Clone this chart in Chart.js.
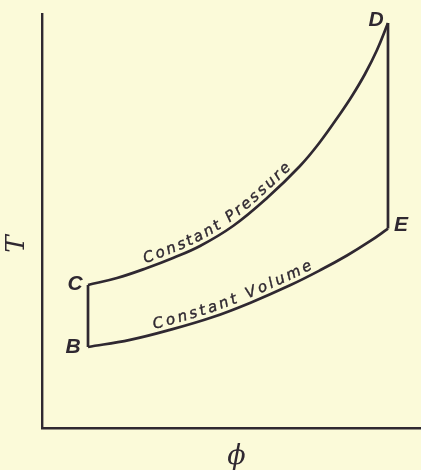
<!DOCTYPE html>
<html>
<head>
<meta charset="utf-8">
<script src="https://cdn.jsdelivr.net/npm/chart.js@4.4.0/dist/chart.umd.min.js"></script>
<style>
  html, body { margin: 0; padding: 0; background: #fbfad9; }
  #wrap { width: 421px; height: 470px; }
</style>
</head>
<body>
<div id="wrap"><canvas id="chart" width="421" height="470"></canvas></div>
<script>
// Entropy (phi) and temperature (T), arbitrary units
const stateNames = ['B', 'C', 'D', 'E'];
const statePhi = [12.14, 12.14, 91.29, 91.29];
const stateT = [19.57, 34.54, 97.83, 48.16];

// Heating at constant pressure, C -> D
const pressurePhi = [12.14, 19.79, 27.70, 34.56, 41.69, 50.40, 59.37, 68.07, 73.35, 78.63, 81.79, 85.22, 88.39, 91.29];
const pressureT = [34.54, 36.23, 38.65, 41.06, 43.96, 48.79, 55.56, 63.29, 69.08, 75.85, 80.19, 85.51, 91.30, 97.83];

// Constant volume line, B -> E
const volumePhi = [12.14, 23.22, 33.77, 45.12, 54.88, 65.44, 73.35, 80.47, 86.54, 91.29];
const volumeT = [19.57, 21.28, 23.70, 26.81, 30.22, 34.47, 38.09, 41.67, 45.12, 48.16];

const curveLabels = ['Constant Pressure', 'Constant Volume'];
const axisTitleX = 'ϕ';
const axisTitleY = 'T';

const INK = '#2f2831';

function pairs(xs, ys) { return xs.map((x, i) => ({ x: x, y: ys[i] })); }

const curveStyle = {
  showLine: true, borderColor: INK, borderWidth: 2.7, pointRadius: 0,
  tension: 0.4, fill: false
};
const edgeStyle = {
  showLine: true, borderColor: INK, borderWidth: 2.7, pointRadius: 0,
  tension: 0, fill: false
};

// Sample the drawn bezier path of a line dataset into a dense polyline
function samplePath(meta) {
  const pts = meta.data;
  const out = [{ x: pts[0].x, y: pts[0].y }];
  for (let i = 0; i < pts.length - 1; i++) {
    const a = pts[i], b = pts[i + 1];
    const c1x = a.cp2x ?? a.x, c1y = a.cp2y ?? a.y;
    const c2x = b.cp1x ?? b.x, c2y = b.cp1y ?? b.y;
    for (let k = 1; k <= 20; k++) {
      const t = k / 20, u = 1 - t;
      out.push({
        x: u*u*u*a.x + 3*u*u*t*c1x + 3*u*t*t*c2x + t*t*t*b.x,
        y: u*u*u*a.y + 3*u*u*t*c1y + 3*u*t*t*c2y + t*t*t*b.y
      });
    }
  }
  return out;
}

// Write text letter by letter along a polyline, between two x pixel positions
function textAlongPath(ctx, path, text, xStart, xEnd, offset) {
  const cum = [0];
  for (let i = 1; i < path.length; i++) {
    cum.push(cum[i - 1] + Math.hypot(path[i].x - path[i - 1].x, path[i].y - path[i - 1].y));
  }
  const arcAtX = (px) => {
    for (let i = 1; i < path.length; i++) if (path[i].x >= px) return cum[i];
    return cum[cum.length - 1];
  };
  const at = (s) => {
    let i = 1;
    while (i < path.length - 1 && cum[i] < s) i++;
    const p0 = path[i - 1], p1 = path[i];
    const f = (s - cum[i - 1]) / ((cum[i] - cum[i - 1]) || 1);
    return {
      x: p0.x + (p1.x - p0.x) * f,
      y: p0.y + (p1.y - p0.y) * f,
      a: Math.atan2(p1.y - p0.y, p1.x - p0.x)
    };
  };
  const chars = [...text];
  const widths = chars.map(ch => ctx.measureText(ch).width);
  const natural = widths.reduce((s, w) => s + w, 0);
  const s0 = arcAtX(xStart), s1 = arcAtX(xEnd);
  const gap = (s1 - s0 - natural) / (chars.length - 1);
  let s = s0;
  chars.forEach((ch, i) => {
    const p = at(s + widths[i] / 2);
    ctx.save();
    ctx.translate(p.x, p.y);
    ctx.rotate(p.a);
    ctx.fillText(ch, 0, -offset);
    ctx.strokeText(ch, 0, -offset);
    ctx.restore();
    s += widths[i] + gap;
  });
}

const annotations = {
  id: 'cycleText',
  afterDatasetsDraw(chart) {
    const { ctx, scales: { x, y } } = chart;
    ctx.save();
    ctx.fillStyle = INK;
    ctx.strokeStyle = INK;

    // state point letters
    ctx.font = 'bold italic 21px "Liberation Sans"';
    ctx.textAlign = 'center';
    ctx.textBaseline = 'middle';
    const shift = [[-15, 0], [-13, -1], [-12, -3], [13, -3]];
    stateNames.forEach((n, i) => {
      ctx.fillText(n, x.getPixelForValue(statePhi[i]) + shift[i][0],
                      y.getPixelForValue(stateT[i]) + shift[i][1]);
    });

    // labels written along the two curves
    ctx.font = 'italic 15px "DejaVu Sans"';
    ctx.lineWidth = 0.4;
    ctx.textBaseline = 'alphabetic';
    const cp = samplePath(chart.getDatasetMeta(0));
    textAlongPath(ctx, cp, curveLabels[0], x.getPixelForValue(27.7), x.getPixelForValue(66.5), 5);
    const cv = samplePath(chart.getDatasetMeta(1));
    textAlongPath(ctx, cv, curveLabels[1], x.getPixelForValue(29.8), x.getPixelForValue(72.0), 5);

    // axis titles
    ctx.textBaseline = 'middle';
    ctx.font = 'italic 27px "DejaVu Serif"';
    ctx.fillText(axisTitleX, (x.left + x.right) / 2 + 5, y.bottom + 29);
    ctx.save();
    ctx.translate(x.left - 25, (y.top + y.bottom) / 2 + 23);
    ctx.rotate(-Math.PI / 2);
    ctx.font = 'italic 26px "DejaVu Serif"';
    ctx.fillText(axisTitleY, 0, 0);
    ctx.restore();

    ctx.restore();
  }
};

new Chart(document.getElementById('chart'), {
  type: 'scatter',
  data: {
    datasets: [
      Object.assign({ data: pairs(pressurePhi, pressureT) }, curveStyle),
      Object.assign({ data: pairs(volumePhi, volumeT) }, curveStyle),
      Object.assign({ data: pairs([statePhi[0], statePhi[1]], [stateT[0], stateT[1]]) }, edgeStyle),
      Object.assign({ data: pairs([statePhi[2], statePhi[3]], [stateT[2], stateT[3]]) }, edgeStyle)
    ]
  },
  options: {
    responsive: false,
    animation: false,
    layout: { padding: { left: 42, top: 14, right: 0, bottom: 42 } },
    plugins: { legend: { display: false }, tooltip: { enabled: false } },
    scales: {
      x: {
        type: 'linear', min: 0, max: 100,
        grid: { display: false, drawTicks: false },
        ticks: { display: false },
        border: { display: true, color: INK, width: 2.4 }
      },
      y: {
        type: 'linear', min: 0, max: 100,
        grid: { display: false, drawTicks: false },
        ticks: { display: false },
        border: { display: true, color: INK, width: 2.4 }
      }
    }
  },
  plugins: [annotations]
});
</script>
</body>
</html>
